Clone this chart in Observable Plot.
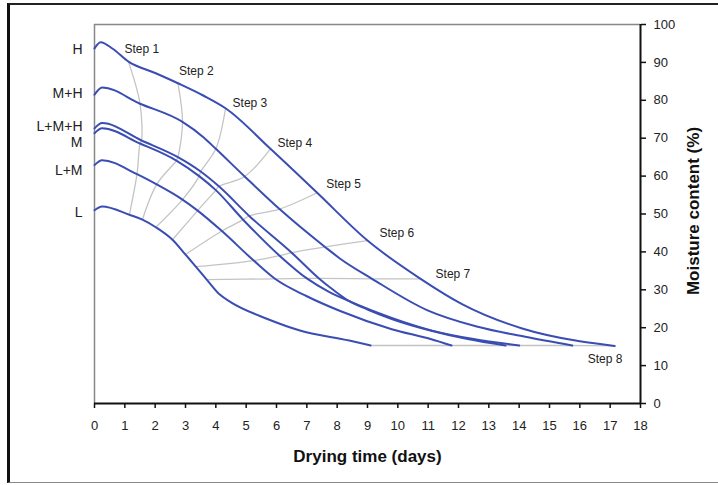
<!DOCTYPE html>
<html>
<head>
<meta charset="utf-8">
<script src="https://cdn.jsdelivr.net/npm/d3@7"></script>
<script src="https://cdn.jsdelivr.net/npm/@observablehq/plot@0.6"></script>
<style>
  html, body { margin: 0; padding: 0; background: #fff; }
  #wrap { position: relative; width: 718px; height: 485px; overflow: hidden; }
  #wrap svg { position: absolute; left: 0; top: 0; }
  #border {
    position: absolute; left: 7px; top: 3px; width: 740px; height: 477px;
    border-left: 3px solid #111; border-top: 2.5px solid #222; border-bottom: 1.5px solid #888;
    pointer-events: none; z-index: 2;
  }
</style>
</head>
<body>
<div id="wrap"><div id="border"></div></div>
<script>
// Drying curves: [day, moisture content %] for each mixture
const seriesNames = ["H", "M+H", "L+M+H", "M", "L+M", "L"];

const curveH = [[0,93.7],[0.2,95.3],[0.6,93.6],[1.12,90.2],[2.0,87.2],[2.75,84.5],[3.6,81.2],[4.32,77.9],
  [5.8,67.2],[7.34,55.6],[9.0,43],[10.75,32.9],[12.1,26.3],[14.1,19.8],[16.0,16.4],[17.15,15.2]];
const curveMH = [[0,81.5],[0.25,83.4],[1.5,79.1],[2.9,74.3],[3.6,70.2],[4.0,67.2],[4.95,59.9],[6.1,51.3],
  [7.6,41.3],[8.1,38.2],[9.15,32.9],[11.0,24.5],[12.6,20.3],[14.2,17.6],[15.75,15.3]];
const curveLMH = [[0,72.6],[0.25,74.0],[1.55,69.4],[2.75,65.0],[3.5,61.2],[4.1,57.3],[5.1,49.5],[6.5,39.8],
  [7.4,33.0],[7.9,29.8],[8.4,27.0],[9.0,24.8],[9.8,22.3],[11.1,19.2],[12.3,17.0],[13.55,15.3]];
const curveM = [[0,71.3],[0.25,72.6],[1.5,68.6],[2.7,64.1],[3.45,60.0],[4.0,56.3],[4.9,48.5],[6.1,39.0],
  [7.0,33.0],[7.7,29.6],[8.4,27.0],[9.8,22.6],[11.1,19.3],[12.5,17.0],[14.0,15.3]];
const curveLM = [[0,62.9],[0.25,64.2],[1.4,60.5],[2.05,57.8],[2.9,53.8],[3.4,50.9],[4.2,45.5],[5.25,37.7],
  [5.95,32.9],[7.0,28.3],[8.1,24.4],[9.8,19.6],[11.08,17.0],[11.77,15.3]];
const curveL = [[0,51.0],[0.25,52.0],[1.15,49.8],[1.58,48.5],[2.02,46.5],[2.57,43.2],[3.0,39.3],[3.34,36.1],
  [3.7,32.7],[4.15,28.6],[4.5,26.7],[5.7,22.3],[6.8,19.2],[8.4,16.6],[9.1,15.3]];

// Points reached at each drying step, listed H → L
const step1 = [[1.12,90.2],[1.5,79.1],[1.55,69.4],[1.5,68.6],[1.4,60.5],[1.15,49.8]];
const step2 = [[2.75,84.5],[2.9,74.3],[2.75,65.0],[2.7,64.1],[2.05,57.8],[1.58,48.5]];
const step3 = [[4.32,77.9],[4.0,67.2],[3.5,61.2],[3.45,60.0],[2.9,53.8],[2.02,46.5]];
const step4 = [[5.8,67.2],[4.95,59.9],[4.1,57.3],[4.0,56.3],[3.4,50.9],[2.57,43.2]];
const step5 = [[7.34,55.6],[6.1,51.3],[5.1,49.5],[4.9,48.5],[4.2,45.5],[3.0,39.3]];
const step6 = [[9.0,43],[7.6,41.3],[6.5,39.8],[6.1,39.0],[5.25,37.7],[3.34,36.1]];
const step7 = [[10.75,32.9],[9.15,32.9],[7.4,33.0],[7.0,33.0],[5.95,32.9],[3.7,32.7]];
const step8 = [[17.15,15.2],[15.75,15.3],[13.55,15.3],[14.0,15.3],[11.77,15.3],[9.1,15.3]];

const stepNames = ["Step 1","Step 2","Step 3","Step 4","Step 5","Step 6","Step 7","Step 8"];
const dayTicks = [0,1,2,3,4,5,6,7,8,9,10,11,12,13,14,15,16,17,18];
const moistureTicks = [0,10,20,30,40,50,60,70,80,90,100];

// ---- assembly ----
const curves = [curveH, curveMH, curveLMH, curveM, curveLM, curveL];
const steps = [step1, step2, step3, step4, step5, step6, step7, step8];

const curveRows = curves.flatMap((pts, i) => pts.map(([day, m]) => ({series: seriesNames[i], day, m})));
// the last two steps run level, so they are drawn left to right
const stepRows = steps.flatMap((pts, i) => {
  const ordered = i >= 6 ? [...pts].sort((a, b) => a[0] - b[0]) : pts;
  return ordered.map(([day, m]) => ({step: stepNames[i], day, m}));
});

// label nudges (pixels)
const seriesLabelDy = [1.5, -0.6, -2.3, 8.8, 5, 2];
const stepLabelDx = [-4, 1, 7, 7, 9, 12, 15, -27];
const stepLabelDy = [-12, -12, -5, -6, -9, -7, -5, 13];

const blue = "#3a4db3";
const font = "'Liberation Sans', Arial, sans-serif";

const seriesLabels = seriesNames.map((name, i) =>
  Plot.text([curves[i][0]], {
    x: d => d[0], y: d => d[1], text: () => name,
    textAnchor: "end", dx: -12, dy: seriesLabelDy[i],
    fontSize: 14, fill: "#222"
  }));

const stepLabels = stepNames.map((name, i) =>
  Plot.text([steps[i][0]], {
    x: d => d[0], y: d => d[1], text: () => name,
    textAnchor: "start", dx: stepLabelDx[i], dy: stepLabelDy[i],
    fontSize: 12, fill: "#222"
  }));

const chart = Plot.plot({
  width: 718,
  height: 485,
  marginLeft: 94,
  marginRight: 78,
  marginTop: 24,
  marginBottom: 82,
  x: {domain: [0, 18]},
  y: {domain: [0, 100]},
  style: {fontFamily: font, fontSize: "13px", color: "#222", background: "transparent"},
  marks: [
    Plot.ruleY([100], {stroke: "#888", strokeWidth: 1.5}),
    Plot.ruleX([0], {stroke: "#888", strokeWidth: 1.5}),
    Plot.line(stepRows, {x: "day", y: "m", z: "step", curve: "catmull-rom", stroke: "#c4c4c4", strokeWidth: 1.3}),
    Plot.line(curveRows, {x: "day", y: "m", z: "series", curve: "monotone-x", stroke: blue, strokeWidth: 2}),
    Plot.ruleY([0], {stroke: "#111", strokeWidth: 2}),
    Plot.ruleX([18], {stroke: "#111", strokeWidth: 2}),
    Plot.axisX({ticks: dayTicks, tickSize: 5, tickPadding: 12, tickFormat: d => String(d), label: null, stroke: "#111", strokeWidth: 1.5}),
    Plot.axisY({anchor: "right", ticks: moistureTicks, tickSize: 5, tickPadding: 8, tickFormat: d => String(d), label: null, stroke: "#111", strokeWidth: 1.5}),
    Plot.text(["Drying time (days)"], {frameAnchor: "bottom", lineAnchor: "middle", textAnchor: "middle", dy: 53, fontSize: 17, fontWeight: "bold", fill: "#111"}),
    Plot.text(["Moisture content (%)"], {frameAnchor: "right", lineAnchor: "middle", textAnchor: "middle", dx: 53, dy: -3, rotate: -90, fontSize: 17, fontWeight: "bold", fill: "#111"}),
    ...seriesLabels,
    ...stepLabels
  ]
});

document.getElementById("wrap").appendChild(chart);
</script>
</body>
</html>
